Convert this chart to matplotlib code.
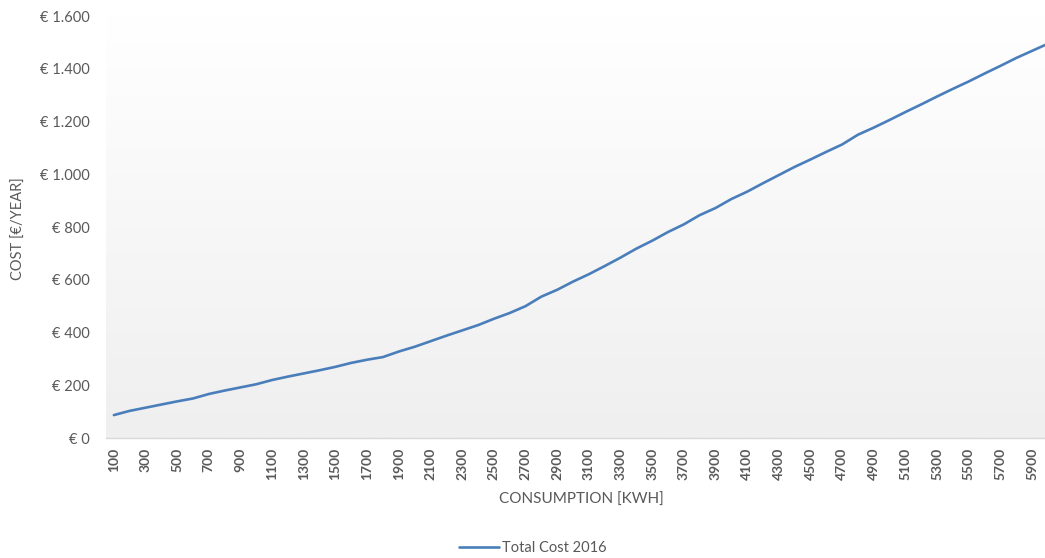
import matplotlib.pyplot as plt
import numpy as np
from matplotlib.ticker import FuncFormatter

# consumption in kWh and yearly total cost in EUR
consumption = list(range(100, 6100, 100))
total_cost_2016 = [
    87, 103, 115, 127, 139, 150, 167, 180, 192, 204,
    220, 233, 245, 257, 270, 285, 297, 307, 328, 346,
    367, 388, 408, 428, 452, 474, 500, 536, 562, 593,
    621, 652, 684, 718, 748, 781, 810, 845, 872, 906,
    934, 966, 997, 1028, 1056, 1085, 1113, 1150, 1177, 1206,
    1236, 1265, 1295, 1324, 1352, 1382, 1411, 1441, 1468, 1495,
]
series_label = "Total Cost 2016"
y_ticks = [0, 200, 400, 600, 800, 1000, 1200, 1400, 1600]

plt.rcParams["font.family"] = ["Lato", "DejaVu Sans"]
TEXT = "#595959"
LINE = "#4a7ebb"

fig = plt.figure(figsize=(10.45, 5.58), dpi=100)
ax = fig.add_axes([0.1014, 0.215, 0.909, 0.7563])

idx = np.arange(len(consumption))
ax.set_xlim(-0.5, len(consumption) - 0.5)
ax.set_ylim(0, 1600)

# vertical gradient fill of the plot area
grad = np.linspace(1.0, 0.0, 256).reshape(-1, 1)
ax.imshow(grad, extent=[-0.5, len(consumption) - 0.5, 0, 1600], aspect="auto",
          cmap=plt.matplotlib.colors.LinearSegmentedColormap.from_list(
              "bg", ["#efefef", "#ffffff"]),
          vmin=0, vmax=1, zorder=0, origin="upper")

ax.plot(idx, total_cost_2016, color=LINE, lw=1.9, solid_capstyle="round",
        label=series_label, zorder=3)

for side in ("top", "right", "left"):
    ax.spines[side].set_visible(False)
ax.spines["bottom"].set_color("#d9d9d9")
ax.spines["bottom"].set_linewidth(1)

ax.set_yticks(y_ticks)
ax.yaxis.set_major_formatter(FuncFormatter(
    lambda v, _: "€ " + f"{int(v):,}".replace(",", ".")))
ax.tick_params(axis="y", length=0, pad=12, labelsize=10.5, labelcolor=TEXT)

ax.set_xticks(idx[::2])
ax.set_xticklabels([str(c) for c in consumption[::2]], rotation=90,
                   fontweight="bold")
ax.tick_params(axis="x", length=0, pad=7, labelsize=10, labelcolor=TEXT)

fig.text(0.556, 0.104, "CONSUMPTION [KWH]", ha="center", va="center",
         fontsize=11, color=TEXT)
fig.text(0.018, 0.59, "COST [€/YEAR]", ha="center", va="center",
         rotation=90, fontsize=10.5, color=TEXT)

leg = fig.legend(loc="center", bbox_to_anchor=(0.51, 0.018), frameon=False,
                 fontsize=10.5, handlelength=2.7, handletextpad=0.2)
for t in leg.get_texts():
    t.set_color(TEXT)

fig.savefig("out.png", dpi=100)
